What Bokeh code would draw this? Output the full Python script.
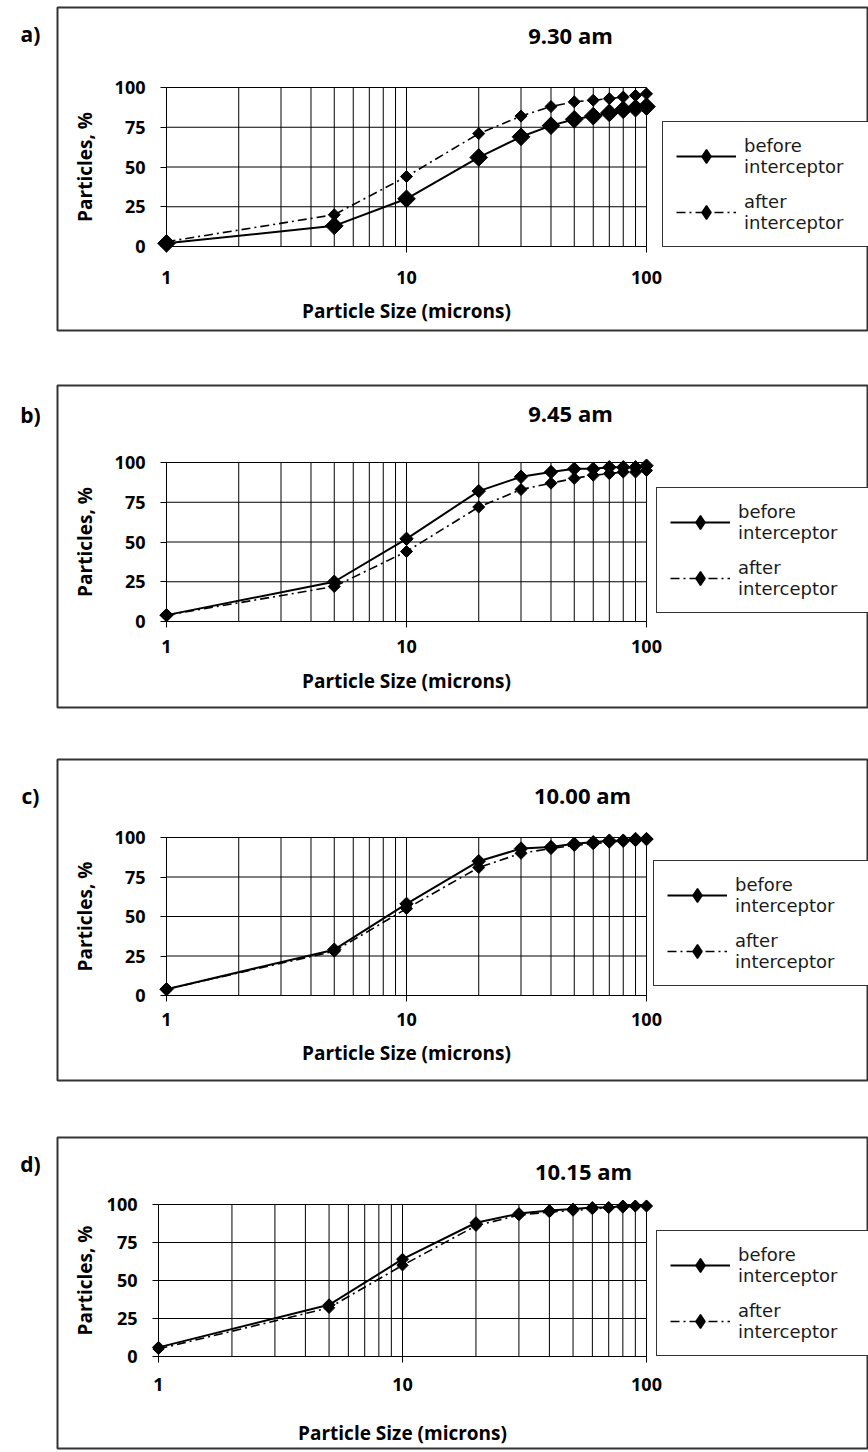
import math
from bokeh.plotting import figure
from bokeh.models import (Range1d, FixedTicker, Legend, LegendItem, Label,
                          BoxAnnotation, PrintfTickFormatter)
from bokeh.layouts import column
from bokeh.embed import file_html
from bokeh.resources import INLINE

# ---------------- data ----------------
sizes = [1, 5, 10, 20, 30, 40, 50, 60, 70, 80, 90, 100]

before_930 = [2, 13, 30, 56, 69, 76, 80, 82, 84, 86, 87, 88]
after_930 = [3, 20, 44, 71, 82, 88, 91, 92, 93, 94, 95, 96]

before_945 = [4, 25, 52, 82, 91, 94, 96, 96, 97, 97, 97, 98]
after_945 = [4, 22, 44, 72, 83, 87, 90, 92, 93, 94, 94, 95]

before_1000 = [4, 29, 58, 85, 93, 94, 96, 97, 98, 98, 99, 99]
after_1000 = [4, 28, 55, 81, 90, 93, 95, 96, 97, 98, 98, 99]

before_1015 = [6, 34, 64, 88, 94, 96, 97, 98, 98, 99, 99, 99]
after_1015 = [5, 32, 60, 86, 93, 95, 96, 97, 98, 98, 99, 99]

titles = ["9.30 am", "9.45 am", "10.00 am", "10.15 am"]
tags = ["a)", "b)", "c)", "d)"]
series_labels = ["before\ninterceptor", "after\ninterceptor"]
x_ticks = [1, 10, 100]
y_ticks = [0, 25, 50, 75, 100]
x_grid = [1, 2, 3, 4, 5, 6, 7, 8, 9, 10, 20, 30, 40, 50, 60, 70, 80, 90, 100]
x_label = "Particle Size (microns)"
y_label = "Particles, %"

panels_data = [
    (before_930, after_930),
    (before_945, after_945),
    (before_1000, after_1000),
    (before_1015, after_1015),
]

# ---------------- layout (page pixel coordinates) ----------------
W = 868
layout_specs = [
    dict(top=0, h=360, box=(57, 7, 867, 330), title=(570, 34), tag=(30, 33),
         gx=(166, 646), gy=(87, 246), leg=(662, 247), ms=(12.5, 8.5),
         xl=310, tick_stand=18),
    dict(top=360, h=375, box=(57, 385, 867, 707), title=(570, 412), tag=(30, 414),
         gx=(166, 646), gy=(462, 621), leg=(656, 613), ms=(9.5, 8.5),
         xl=680, tick_stand=12),
    dict(top=735, h=373, box=(57, 759, 867, 1080), title=(582, 794), tag=(30, 795),
         gx=(166, 646), gy=(837, 995), leg=(653, 986), ms=(9.5, 8.5),
         xl=1052, tick_stand=11),
    dict(top=1108, h=344, box=(57, 1137, 867, 1448), title=(583, 1170), tag=(30, 1163),
         gx=(158, 646), gy=(1204, 1356), leg=(656, 1356), ms=(8.5, 8),
         xl=1432, tick_stand=15),
]

BOLD_FONT = "Open Sans"
LEG_FONT = "DejaVu Sans"
DARK = "#333333"


def make_panel(i):
    spec = layout_specs[i]
    before, after = panels_data[i]
    top, h = spec["top"], spec["h"]
    gx0, gx1 = spec["gx"]
    gy100, gy0 = spec["gy"]
    ppd = (gx1 - gx0) / 2.0
    ppu = (gy0 - gy100) / 100.0

    def ydata(page_y):
        return 100 - (page_y - gy100) / ppu

    # the frame fills the whole canvas; ranges place the data area
    p = figure(width=W, height=h, x_axis_type="log",
               x_range=Range1d(10 ** (-gx0 / ppd), 10 ** (2 + (W - gx1) / ppd)),
               y_range=Range1d(ydata(top + h), ydata(top)),
               output_backend="svg", toolbar_location=None,
               min_border=0, min_border_left=0, min_border_right=0,
               min_border_top=0, min_border_bottom=0)
    p.outline_line_color = None
    p.xgrid.visible = False
    p.ygrid.visible = False
    p.background_fill_color = "white"
    p.border_fill_color = "white"

    # grid lines
    p.segment(x0=x_grid, y0=[0] * len(x_grid), x1=x_grid, y1=[100] * len(x_grid),
              line_color="black", line_width=1)
    p.segment(x0=[1] * len(y_ticks), y0=y_ticks, x1=[100] * len(y_ticks), y1=y_ticks,
              line_color="black", line_width=1)

    # axes
    xa = p.xaxis[0]
    xa.fixed_location = 0
    xa.bounds = (1, 100)
    xa.ticker = FixedTicker(ticks=x_ticks, minor_ticks=[])
    xa.formatter = PrintfTickFormatter(format="%d")
    ya = p.yaxis[0]
    ya.fixed_location = 1
    ya.bounds = (0, 100)
    ya.ticker = FixedTicker(ticks=y_ticks, minor_ticks=[])
    ya.formatter = PrintfTickFormatter(format="%d")
    for ax in (xa, ya):
        ax.axis_line_color = "black"
        ax.axis_line_width = 1
        ax.major_tick_line_color = "black"
        ax.major_tick_out = 6
        ax.major_tick_in = 0
        ax.minor_tick_out = 0
        ax.minor_tick_in = 0
        ax.major_label_text_font = BOLD_FONT
        ax.major_label_text_font_style = "bold"
        ax.major_label_text_font_size = "18px"
        ax.major_label_text_color = "black"
    xa.major_label_standoff = spec["tick_stand"]
    ya.major_label_standoff = 15

    # axis titles
    p.add_layout(Label(x=(gx0 + gx1) / 2, y=ydata(spec["xl"]), x_units="screen",
                       text=x_label, text_font=BOLD_FONT, text_font_style="bold",
                       text_font_size="19px", text_align="center", text_baseline="middle",
                       text_color="black"))
    p.add_layout(Label(x=84, y=50, x_units="screen",
                       text=y_label, angle=math.pi / 2, text_font=BOLD_FONT,
                       text_font_style="bold", text_font_size="19px",
                       text_align="center", text_baseline="middle", text_color="black"))

    # series
    ms_b, ms_a = spec["ms"]
    lb = p.line(sizes, before, line_color="black", line_width=2)
    sb = p.scatter(sizes, before, marker="square", angle=math.pi / 4, size=ms_b,
                   fill_color="black", line_color="black")
    la = p.line(sizes, after, line_color="black", line_width=1.6, line_dash="9 4 2 4")
    sa = p.scatter(sizes, after, marker="square", angle=math.pi / 4, size=ms_a,
                   fill_color="black", line_color="black")
    # diamond glyphs used only for the legend keys
    kb = p.scatter(sizes, before, marker="diamond", size=ms_b, fill_color="black",
                   line_color="black", line_width=1.5, visible=False)
    ka = p.scatter(sizes, after, marker="diamond", size=ms_a, fill_color="black",
                   line_color="black", line_width=1.5, visible=False)

    legend = Legend(items=[LegendItem(label=series_labels[0], renderers=[lb, kb]),
                           LegendItem(label=series_labels[1], renderers=[la, ka])],
                    location=(spec["leg"][0], top + h - spec["leg"][1]))
    legend.label_text_font = LEG_FONT
    legend.label_text_font_size = "18px"
    legend.label_text_color = "#1a1a1a"
    legend.label_text_line_height = 1.25
    legend.border_line_color = DARK
    legend.border_line_alpha = 1
    legend.border_line_width = 1.5
    legend.background_fill_color = "white"
    legend.background_fill_alpha = 1
    legend.padding = 13
    legend.spacing = 14
    legend.margin = 0
    legend.glyph_width = 60
    legend.glyph_height = 34
    legend.label_standoff = 8
    legend.label_width = 140
    p.add_layout(legend)

    # panel box
    bl, bt, br, bb = spec["box"]
    p.add_layout(BoxAnnotation(left=bl, right=br, top=ydata(bt), bottom=ydata(bb),
                               left_units="screen", right_units="screen",
                               fill_alpha=0, fill_color=None,
                               line_color=DARK, line_alpha=1, line_width=2))

    # title and tag
    tx, ty = spec["title"]
    p.add_layout(Label(x=tx, y=ydata(ty), x_units="screen",
                       text=titles[i], text_font=BOLD_FONT, text_font_style="bold",
                       text_font_size="22px", text_align="center", text_baseline="middle",
                       text_color="black"))
    gx_, gy_ = spec["tag"]
    p.add_layout(Label(x=gx_, y=ydata(gy_), x_units="screen",
                       text=tags[i], text_font=BOLD_FONT, text_font_style="bold",
                       text_font_size="21px", text_align="center", text_baseline="middle",
                       text_color="black"))
    return p


figs = [make_panel(i) for i in range(4)]
page = column(*figs, spacing=0)
open("out.html", "w").write(file_html(page, INLINE))
